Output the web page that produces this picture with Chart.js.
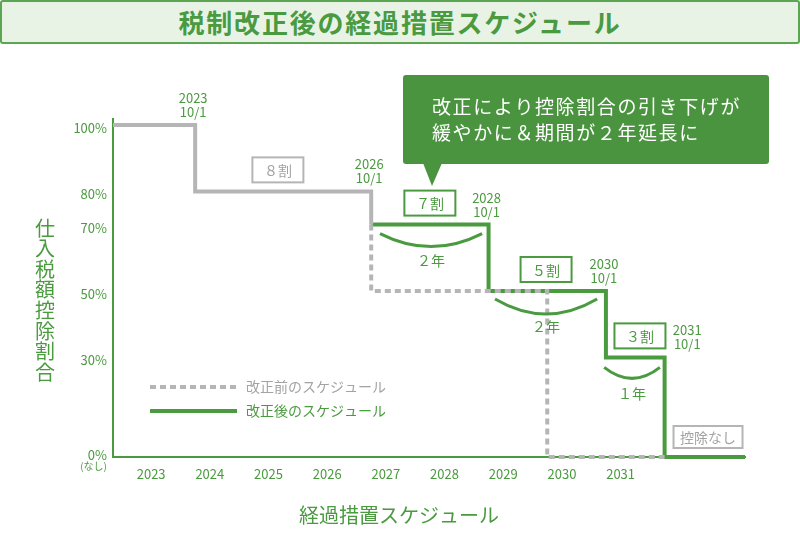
<!DOCTYPE html>
<html>
<head>
<meta charset="utf-8">
<script src="https://cdn.jsdelivr.net/npm/chart.js@4.4.0/dist/chart.umd.min.js"></script>
<style>
  body { margin: 0; background: #fff; }
  #wrap { position: relative; width: 800px; height: 550px; }
  #title {
    position: absolute; left: 0; top: 0; width: 796px; height: 40px;
    border: 2px solid #5ca552; border-radius: 3px; background: #e8f3e6;
    color: #4a9a3f; font: bold 26px "Noto Sans CJK JP"; letter-spacing: 1.8px;
    text-align: center; line-height: 40px;
  }
  canvas { position: absolute; left: 0; top: 0; }
</style>
</head>
<body>
<div id="wrap">
  <canvas id="chart" width="800" height="550"></canvas>
  <div id="title">税制改正後の経過措置スケジュール</div>
</div>
<script>
const yearTicks = [2023, 2024, 2025, 2026, 2027, 2028, 2029, 2030, 2031];
const pctTicks = [0, 30, 50, 70, 80, 100];

// step points: x = year (10/1 = .75), y = rate held until next point
const commonX = [2022.35, 2023.75, 2026.75];
const commonY = [100, 80, 70];
const beforeX = [2026.75, 2026.75, 2029.75, 2031.75];
const beforeY = [70, 50, 0, 0];
const afterX = [2026.75, 2028.75, 2030.75, 2031.75, 2033.12];
const afterY = [70, 50, 30, 0, 0];

const GREEN = "#4a9a3f";
const GRAY = "#b5b5b5";
const GRAY_TXT = "#a3a3a3";
const FONT = '"Noto Sans CJK JP", "Noto Sans", sans-serif';

const pts = (xs, ys) => xs.map((x, i) => ({ x: x, y: ys[i] }));

const notes = {
  id: "notes",
  afterDatasetsDraw(chart) {
    const { ctx } = chart;
    const xs = chart.scales.x, ys = chart.scales.y;
    const px = (v) => xs.getPixelForValue(v);
    const py = (v) => ys.getPixelForValue(v);
    ctx.save();
    ctx.textAlign = "center";
    ctx.textBaseline = "middle";

    // dates of the steps
    const dates = [[2023.75, 100, "2023"], [2026.75, 80, "2026"], [2028.75, 70, "2028"],
                   [2030.75, 50, "2030"], [2032.17, 30, "2031"]];
    ctx.fillStyle = GREEN;
    ctx.font = "13px " + FONT;
    dates.forEach(([x, lvl, yr]) => {
      ctx.fillText(yr, px(x) - 2, py(lvl) - 27);
      ctx.fillText("10/1", px(x) - 2, py(lvl) - 13);
    });

    // boxed rate labels
    const boxes = [[2025.16, 80, "８割", GRAY, GRAY_TXT, 51, 25],
                   [2027.75, 70, "７割", GREEN, GREEN, 51, 25],
                   [2029.73, 50, "５割", GREEN, GREEN, 51, 25],
                   [2031.33, 30, "３割", GREEN, GREEN, 51, 25],
                   [2032.49, 0, "控除なし", GRAY, GRAY_TXT, 69, 22]];
    ctx.font = "14px " + FONT;
    boxes.forEach(([x, lvl, t, bc, tc, w, h]) => {
      const cx = px(x), bottom = py(lvl) - 9;
      ctx.fillStyle = "#fff";
      ctx.fillRect(cx - w / 2, bottom - h, w, h);
      ctx.strokeStyle = bc;
      ctx.lineWidth = 2;
      ctx.strokeRect(cx - w / 2, bottom - h, w, h);
      ctx.fillStyle = tc;
      ctx.fillText(t, cx, bottom - h / 2 + 1);
    });

    // duration arcs
    const arcs = [[2026.90, 2028.64, 70, 9, 13, "２年"],
                  [2028.86, 2030.60, 50, 8, 15, "２年"],
                  [2030.72, 2031.67, 30, 10, 11, "１年"]];
    arcs.forEach(([x0, x1, lvl, off, depth, t]) => {
      const a = px(x0), b = px(x1), y0 = py(lvl) + off;
      ctx.beginPath();
      ctx.moveTo(a, y0);
      ctx.quadraticCurveTo((a + b) / 2, y0 + depth * 2, b, y0);
      ctx.strokeStyle = GREEN;
      ctx.lineWidth = 3;
      ctx.stroke();
      ctx.fillStyle = GREEN;
      ctx.fillText(t, (a + b) / 2, py(lvl) + 36);
    });

    // "(なし)" under 0%
    ctx.font = "10px " + FONT;
    ctx.textAlign = "right";
    ctx.fillText("(なし)", 107, py(0) + 9);

    // legend
    const ds = chart.data.datasets;
    [[ds[1], 387], [ds[2], 411]].forEach(([d, yy]) => {
      ctx.beginPath();
      ctx.setLineDash(d.borderDash || []);
      ctx.moveTo(150, yy);
      ctx.lineTo(237, yy);
      ctx.strokeStyle = d.borderColor;
      ctx.lineWidth = 4;
      ctx.stroke();
      ctx.setLineDash([]);
      ctx.fillStyle = d.borderColor === GRAY ? GRAY_TXT : GREEN;
      ctx.font = "14px " + FONT;
      ctx.textAlign = "left";
      ctx.fillText(d.label, 246, yy);
    });

    // callout
    ctx.fillStyle = "#4a943f";
    ctx.beginPath();
    ctx.roundRect(403, 75, 366, 89, 3);
    ctx.fill();
    ctx.beginPath();
    ctx.moveTo(423, 163);
    ctx.lineTo(442, 163);
    ctx.lineTo(432, 186);
    ctx.closePath();
    ctx.fill();
    ctx.fillStyle = "#fff";
    ctx.font = "19px " + FONT;
    ctx.letterSpacing = "1.6px";
    ctx.textAlign = "left";
    ctx.fillText("改正により控除割合の引き下げが", 432, 107);
    ctx.fillText("緩やかに＆期間が２年延長に", 432, 133);
    ctx.letterSpacing = "0px";

    // axis titles
    ctx.fillStyle = GREEN;
    ctx.font = "20px " + FONT;
    ctx.textAlign = "center";
    Array.from("仕入税額控除割合").forEach((c, i) => {
      ctx.fillText(c, 45, 228 + i * 20.6);
    });
    ctx.fillText("経過措置スケジュール", 399, 515);
    ctx.restore();
  }
};

new Chart(document.getElementById("chart").getContext("2d"), {
  type: "line",
  data: {
    datasets: [
      { label: "共通", data: pts(commonX, commonY), borderColor: GRAY, borderWidth: 4, stepped: "before" },
      { label: "改正前のスケジュール", data: pts(beforeX, beforeY), borderColor: GRAY, borderWidth: 4,
        borderDash: [6, 4], stepped: "before" },
      { label: "改正後のスケジュール", data: pts(afterX, afterY), borderColor: GREEN, borderWidth: 4, stepped: "before" },
    ],
  },
  options: {
    responsive: false,
    animation: false,
    layout: { padding: { top: 119, right: 55, left: 0, bottom: 0 } },
    elements: { point: { radius: 0 }, line: { borderCapStyle: "butt", borderJoinStyle: "miter" } },
    datasets: { line: { clip: false } },
    plugins: { legend: { display: false }, tooltip: { enabled: false } },
    scales: {
      x: {
        type: "linear",
        min: 2022.35,
        max: 2033.12,
        afterBuildTicks: (s) => { s.ticks = yearTicks.map((v) => ({ value: v })); },
        afterFit: (s) => { s.height = 93; },
        grid: { display: false, drawTicks: false },
        border: { color: GREEN, width: 2 },
        ticks: { color: GREEN, font: { family: FONT, size: 13 }, padding: 9, maxRotation: 0, autoSkip: false,
                 callback: (v) => String(v) },
      },
      y: {
        min: 0,
        max: 101.8,
        afterBuildTicks: (s) => { s.ticks = pctTicks.map((v) => ({ value: v })); },
        afterFit: (s) => { s.width = 113; },
        grid: { display: false, drawTicks: false },
        border: { color: GREEN, width: 2 },
        ticks: { color: GREEN, font: { family: FONT, size: 13, lineHeight: 0.7 }, padding: 6, labelOffset: 3,
                 callback: (v) => (v === 0 ? ["0%", ""] : v + "%") },
      },
    },
  },
  plugins: [notes],
});
</script>
</body>
</html>
